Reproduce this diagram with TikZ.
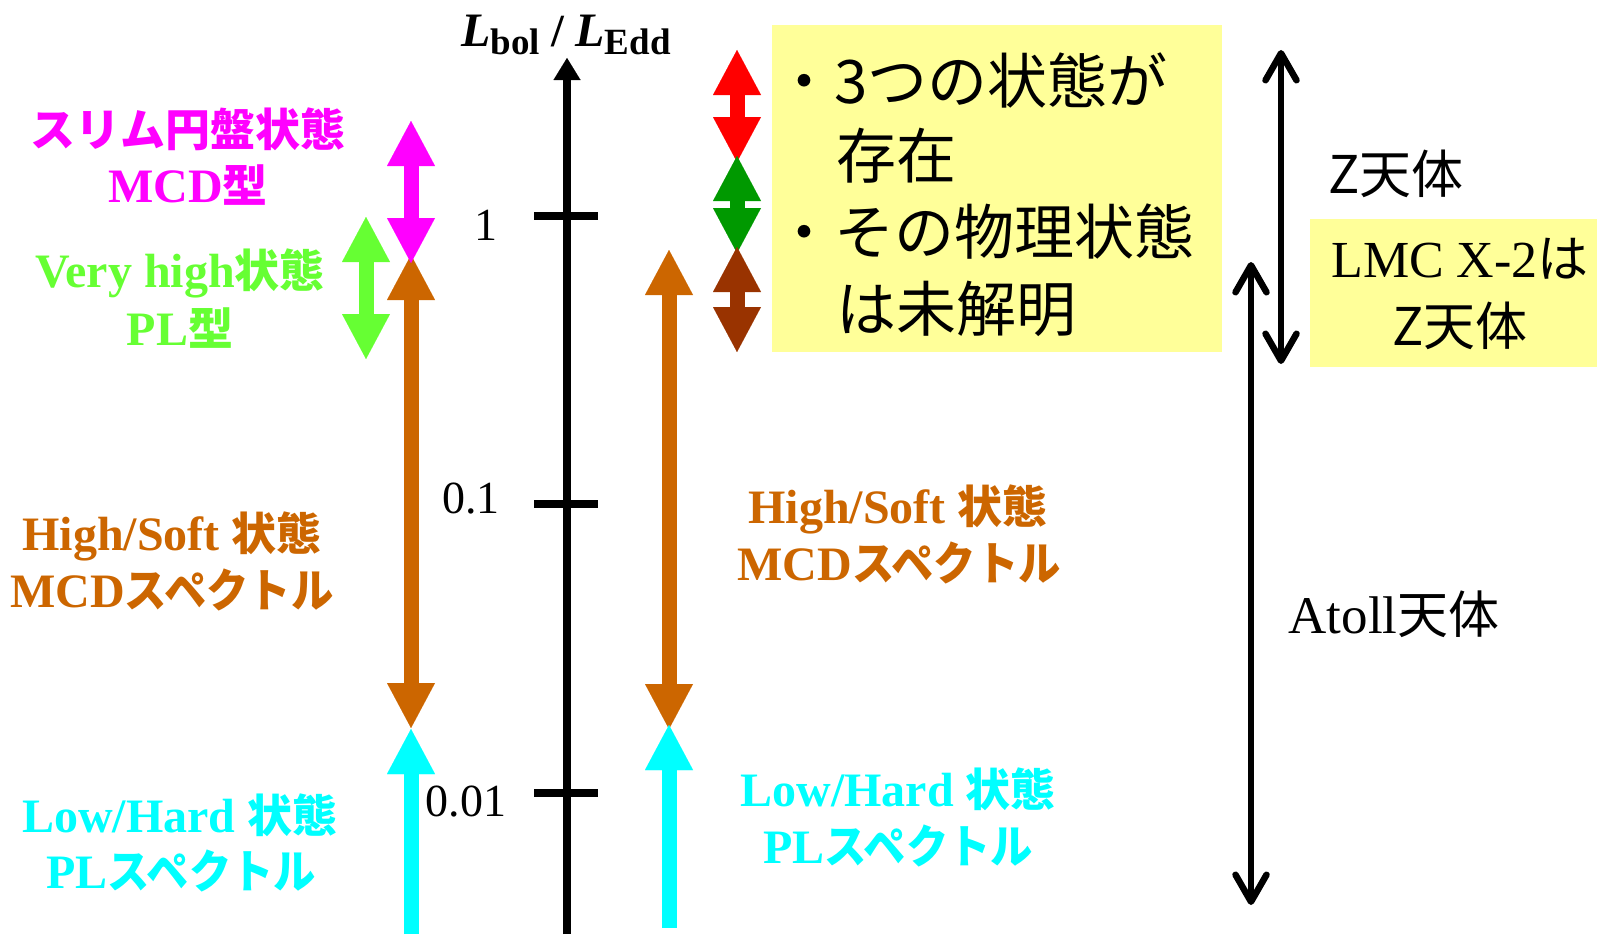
\documentclass[tikz,border=0pt]{standalone}
\usepackage{fontspec}
\setmainfont{Liberation Serif}
\newfontfamily\jpfont{Noto Sans CJK JP}
\usetikzlibrary{arrows.meta}
\definecolor{cMag}{HTML}{FF00FF}
\definecolor{cVH}{HTML}{66FF33}
\definecolor{cHS}{HTML}{CC6600}
\definecolor{cLH}{HTML}{00FFFF}
\definecolor{cRed}{HTML}{FF0000}
\definecolor{cGrn}{HTML}{009900}
\definecolor{cBrn}{HTML}{993300}
\definecolor{cYel}{HTML}{FFFF99}
\newcommand{\jb}[1]{{\jpfont\bfseries\fontsize{45}{45}\selectfont #1}}
\newcommand{\jk}[1]{\scalebox{0.92}[1]{\jpfont\bfseries\fontsize{46}{46}\selectfont #1}}
\tikzset{
  bigtip/.tip={Triangle[width=48pt,length=45pt,line width=0.01pt]},
  barbtip/.tip={Straight Barb[length=27pt,width=31pt,round]},
  fat/.style={line width=15pt},
  dbl/.style={fat,{bigtip}-{bigtip}},
  sgl/.style={fat,-{bigtip}},
  thinarr/.style={line width=6.5pt,{barbtip}-{barbtip}},
  lbl/.style={anchor=base,inner sep=0pt,font=\fontsize{48}{48}\selectfont\bfseries},
  boxtxt/.style={anchor=base west,inner sep=0pt,font=\jpfont\fontsize{60}{60}\selectfont},
  rtxt/.style={anchor=base,inner sep=0pt,font=\jpfont\fontsize{52}{52}\selectfont},
  ticklbl/.style={anchor=base,inner sep=0pt,font=\fontsize{46}{46}\selectfont},
  ybox/.style={fill=cYel,draw=none,inner sep=0pt,anchor=north west}
}
\begin{document}
\begin{tikzpicture}[x=1pt,y=-1pt]
\useasboundingbox (0,0) rectangle (1597,934);
% yellow boxes
\node[ybox,minimum width=450pt,minimum height=327pt] (box1) at (772,25) {};
\node[ybox,minimum width=287pt,minimum height=148pt] (box2) at (1310,219) {};
% axis
\coordinate (axB) at (567,934);
\coordinate (axT) at (567,58);
\draw[line width=8pt,-{Triangle[width=27pt,length=22pt,line width=0.01pt]}] (axB) -- (axT);
\node[anchor=base,inner sep=0pt] (axlbl) at (566,47)
  {{\fontsize{48}{48}\selectfont\bfseries\itshape L}\raisebox{-8pt}{\fontsize{37}{37}\selectfont\bfseries bol}{\fontsize{46}{46}\selectfont\bfseries\ /\ }{\fontsize{48}{48}\selectfont\bfseries\itshape L}\raisebox{-8pt}{\fontsize{37}{37}\selectfont\bfseries Edd}};
% ticks
\foreach \n/\y in {a/216,b/504,c/793}{
  \coordinate (tk\n L) at (534,\y);
  \coordinate (tk\n R) at (598,\y);
  \draw[line width=8pt] (tk\n L) -- (tk\n R);
}
\node[ticklbl] (t1) at (486,240) {1};
\node[ticklbl] (t2) at (471,513) {0.1};
\node[ticklbl] (t3) at (466,816) {0.01};
% left column arrows
\coordinate (oLt) at (411,255); \coordinate (oLb) at (411,728);
\coordinate (mT) at (411,121); \coordinate (mB) at (411,263);
\coordinate (gT) at (366,217); \coordinate (gB) at (366,359);
\coordinate (cLs) at (411,934); \coordinate (cLt) at (411,729);
\draw[dbl,cHS] (oLt) -- (oLb);
\draw[dbl,cMag] (mT) -- (mB);
\draw[dbl,cVH] (gT) -- (gB);
\draw[sgl,cLH] (cLs) -- (cLt);
% second column arrows
\coordinate (oRt) at (669,250); \coordinate (oRb) at (669,729);
\coordinate (cRs) at (669,928); \coordinate (cRt) at (669,725);
\draw[dbl,cHS] (oRt) -- (oRb);
\draw[sgl,cLH] (cRs) -- (cRt);
% small arrows
\coordinate (rT) at (737,50); \coordinate (rB) at (737,162);
\coordinate (sgT) at (737,156); \coordinate (sgB) at (737,253);
\coordinate (bT) at (737,247); \coordinate (bB) at (737,352);
\draw[dbl,cRed] (rT) -- (rB);
\draw[dbl,cGrn] (sgT) -- (sgB);
\draw[dbl,cBrn] (bT) -- (bB);
% right black arrows
\coordinate (zT) at (1281,50); \coordinate (zB) at (1281,364);
\coordinate (aT) at (1251,262); \coordinate (aB) at (1251,905);
\draw[thinarr] (zT) -- (zB);
\draw[thinarr] (aT) -- (aB);
% left labels
\node[lbl,text=cMag] (slim1) at (188,146) {\jb{スリム円盤状態}};
\node[lbl,text=cMag] (slim2) at (188,202) {MCD\jb{型}};
\node[lbl,text=cVH] (vh1) at (180,287) {Very high\jb{状態}};
\node[lbl,text=cVH] (vh2) at (180,345) {PL\jb{型}};
\node[lbl,text=cHS] (hsL1) at (172,550) {High/Soft \jb{状態}};
\node[lbl,text=cHS] (hsL2) at (172,607) {MCD\jk{スペクトル}};
\node[lbl,text=cLH] (lhL1) at (180,832) {Low/Hard \jb{状態}};
\node[lbl,text=cLH] (lhL2) at (181,888) {PL\jk{スペクトル}};
% right column labels
\node[lbl,text=cHS] (hsR1) at (898,523) {High/Soft \jb{状態}};
\node[lbl,text=cHS] (hsR2) at (899,580) {MCD\jk{スペクトル}};
\node[lbl,text=cLH] (lhR1) at (898,806) {Low/Hard \jb{状態}};
\node[lbl,text=cLH] (lhR2) at (898,863) {PL\jk{スペクトル}};
% box text
\node[boxtxt] (b1) at (774,103) {・3つの状態が};
\node[boxtxt] (b2) at (776,178) {\phantom{・}存在};
\node[boxtxt] (b3) at (774,254) {・その物理状態};
\node[boxtxt] (b4) at (776,331) {\phantom{・}は未解明};
% right labels
\node[rtxt] (zlab) at (1396,193) {Z天体};
\node[anchor=base,inner sep=0pt] (lmc1) at (1460,277) {{\fontsize{52}{52}\selectfont LMC X-2}{\jpfont\fontsize{51}{51}\selectfont は}};
\node[rtxt] (lmc2) at (1460,345) {Z天体};
\node[anchor=base,inner sep=0pt] (atoll) at (1394,633) {{\fontsize{53}{53}\selectfont Atoll}{\jpfont\fontsize{51}{51}\selectfont 天体}};
\end{tikzpicture}
\end{document}
